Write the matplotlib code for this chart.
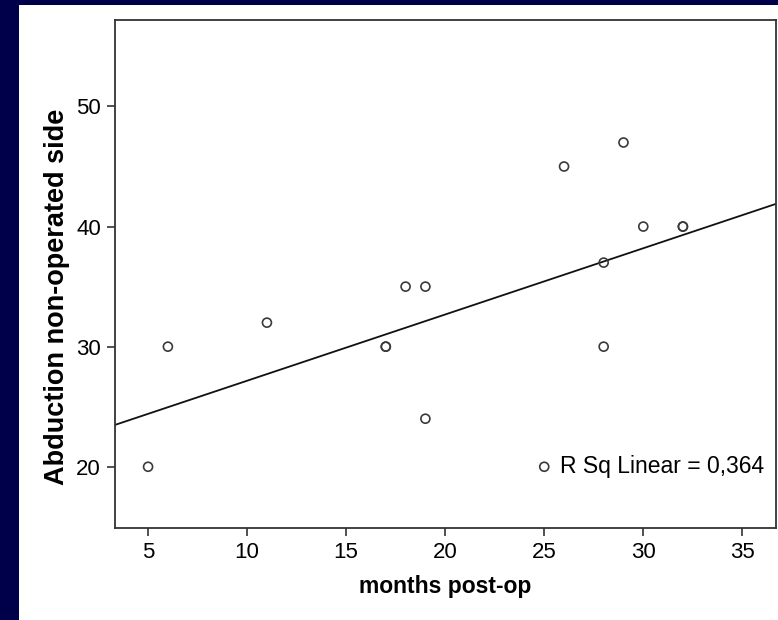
import numpy as np
import matplotlib
matplotlib.use("Agg")
import matplotlib.pyplot as plt
from matplotlib.patches import Rectangle

# months post-op vs abduction on the non-operated side
months = [5, 6, 11, 17, 17, 18, 19, 19, 25, 26, 28, 28, 29, 30, 32, 32]
abduction = [20, 30, 32, 30, 30, 35, 35, 24, 20, 45, 37, 30, 47, 40, 40, 40]

x_ticks = [5, 10, 15, 20, 25, 30, 35]
y_ticks = [20, 30, 40, 50]

plt.rcParams['font.family'] = ['Liberation Sans', 'DejaVu Sans']

fig = plt.figure(figsize=(7.78, 6.2), dpi=100)
fig.patch.set_facecolor('#00004a')
# white slide panel behind the chart
fig.patches.append(Rectangle((19 / 778, 0), 1, 1 - 5 / 620, transform=fig.transFigure,
                             facecolor='white', edgecolor='none', zorder=-10))

ax = fig.add_axes([115 / 778, 1 - 528 / 620, 661 / 778, 508 / 620])

x = np.array(months, dtype=float)
y = np.array(abduction, dtype=float)
slope, intercept = np.polyfit(x, y, 1)
r2 = np.corrcoef(x, y)[0, 1] ** 2

ax.scatter(x, y, s=42, facecolors='none', edgecolors='#3a3a3a', linewidths=1.2, zorder=3)

xmin, xmax = 3.33, 36.7
xs = np.array([xmin, xmax])
ax.plot(xs, slope * xs + intercept, color='#111111', lw=1.3, zorder=2)

ax.set_xlim(xmin, xmax)
ax.set_ylim(14.9, 57.2)
ax.set_xticks(x_ticks)
ax.set_yticks(y_ticks)
ax.tick_params(labelsize=16, length=6, width=1.2, color='#333333', pad=4)

for s in ax.spines.values():
    s.set_linewidth(1.3)
    s.set_color('#333333')

ax.text(25.8, 20, 'R Sq Linear = %s' % ('%.3f' % r2).replace('.', ','),
        fontsize=16.5, va='center', ha='left')

ax.set_xlabel('months post-op', fontsize=16.5, fontweight='bold', labelpad=9)
ax.set_ylabel('Abduction non-operated side', fontsize=19.5, fontweight='bold',
              va='center')
ax.yaxis.set_label_coords(-0.088, 0.455)

fig.savefig('out.png', dpi=100, facecolor=fig.get_facecolor())
